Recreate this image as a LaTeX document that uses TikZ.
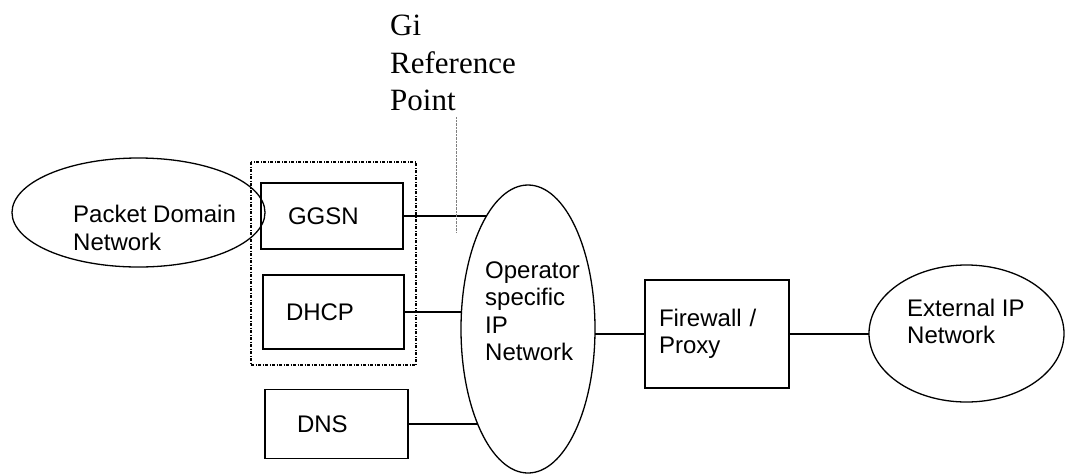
\documentclass[tikz,border=0pt]{standalone}
\usepackage{fontspec}
\setmainfont{Liberation Sans}
\newfontfamily\timesfont{Liberation Serif}
\usetikzlibrary{shapes.geometric,backgrounds}

\begin{document}
\begin{tikzpicture}[x=1pt,y=-1pt]
		\tikzstyle{every node}=[font=\fontsize{24}{27.5}\selectfont, inner sep=0pt]
		\tikzstyle{netbox}=[draw, line width=1.3pt, align=left, inner ysep=0pt]
		\tikzstyle{netcloud}=[draw, ellipse, line width=1.3pt, fill=white, inner sep=0pt]
		\tikzstyle{link}=[line width=1.3pt]
		\useasboundingbox (0,0) rectangle (1066,475);
		\node [netcloud, minimum width=253pt, minimum height=109pt] (pdn) at (138.5,212.5) {};
		\node [anchor=west, align=left] (pdntext) at (73,228) {Packet Domain\\Network};
		\node [netbox, text width=88pt, inner xsep=27pt, minimum height=66pt] (ggsn) at (332,216) {GGSN};
		\node [netbox, text width=95pt, inner xsep=23pt, minimum height=74pt] (dhcp) at (333.5,312) {DHCP};
		\node [netbox, text width=79pt, inner xsep=32pt, minimum height=69pt] (dns) at (336.5,424) {DNS};
		\draw [line width=1.2pt, dash pattern=on 3pt off 1.5pt on 1pt off 1.5pt] (251,162) rectangle (416,365);
		\node [netcloud, minimum width=134pt, minimum height=288pt] (opnet) at (528,329) {};
		\node [anchor=west, align=left] (optext) at (485,311) {Operator\\specific\\IP\\Network};
		\node [netbox, text width=116pt, inner xsep=14pt, minimum height=108pt] (fw) at (717,334) {Firewall /\\Proxy};
		\node [netcloud, minimum width=195pt, minimum height=137pt] (ext) at (966.5,333.5) {};
		\node [anchor=west, align=left] (exttext) at (907,321.5) {External IP\\Network};
		\node [anchor=west, align=left, font=\timesfont\fontsize{31}{37.5}\selectfont] (gi) at (390,63) {Gi\\Reference\\Point};
		\coordinate (gitop) at (456,117);
		\coordinate (gibot) at (456,232);
		\draw [gray, line width=0.7pt, dash pattern=on 0.7pt off 0.7pt] (gitop) -- (gibot);
		\begin{scope}[on background layer]
		\draw [link] (ggsn.east) -- (ggsn.east -| opnet.center);
		\draw [link] (dhcp.east) -- (dhcp.east -| opnet.center);
		\draw [link] (dns.east) -- (dns.east -| opnet.center);
		\draw [link] (fw.west) -- (fw.west -| opnet.center);
		\draw [link] (fw.east) -- (fw.east -| ext.center);
		\end{scope}
\end{tikzpicture}
\end{document}
